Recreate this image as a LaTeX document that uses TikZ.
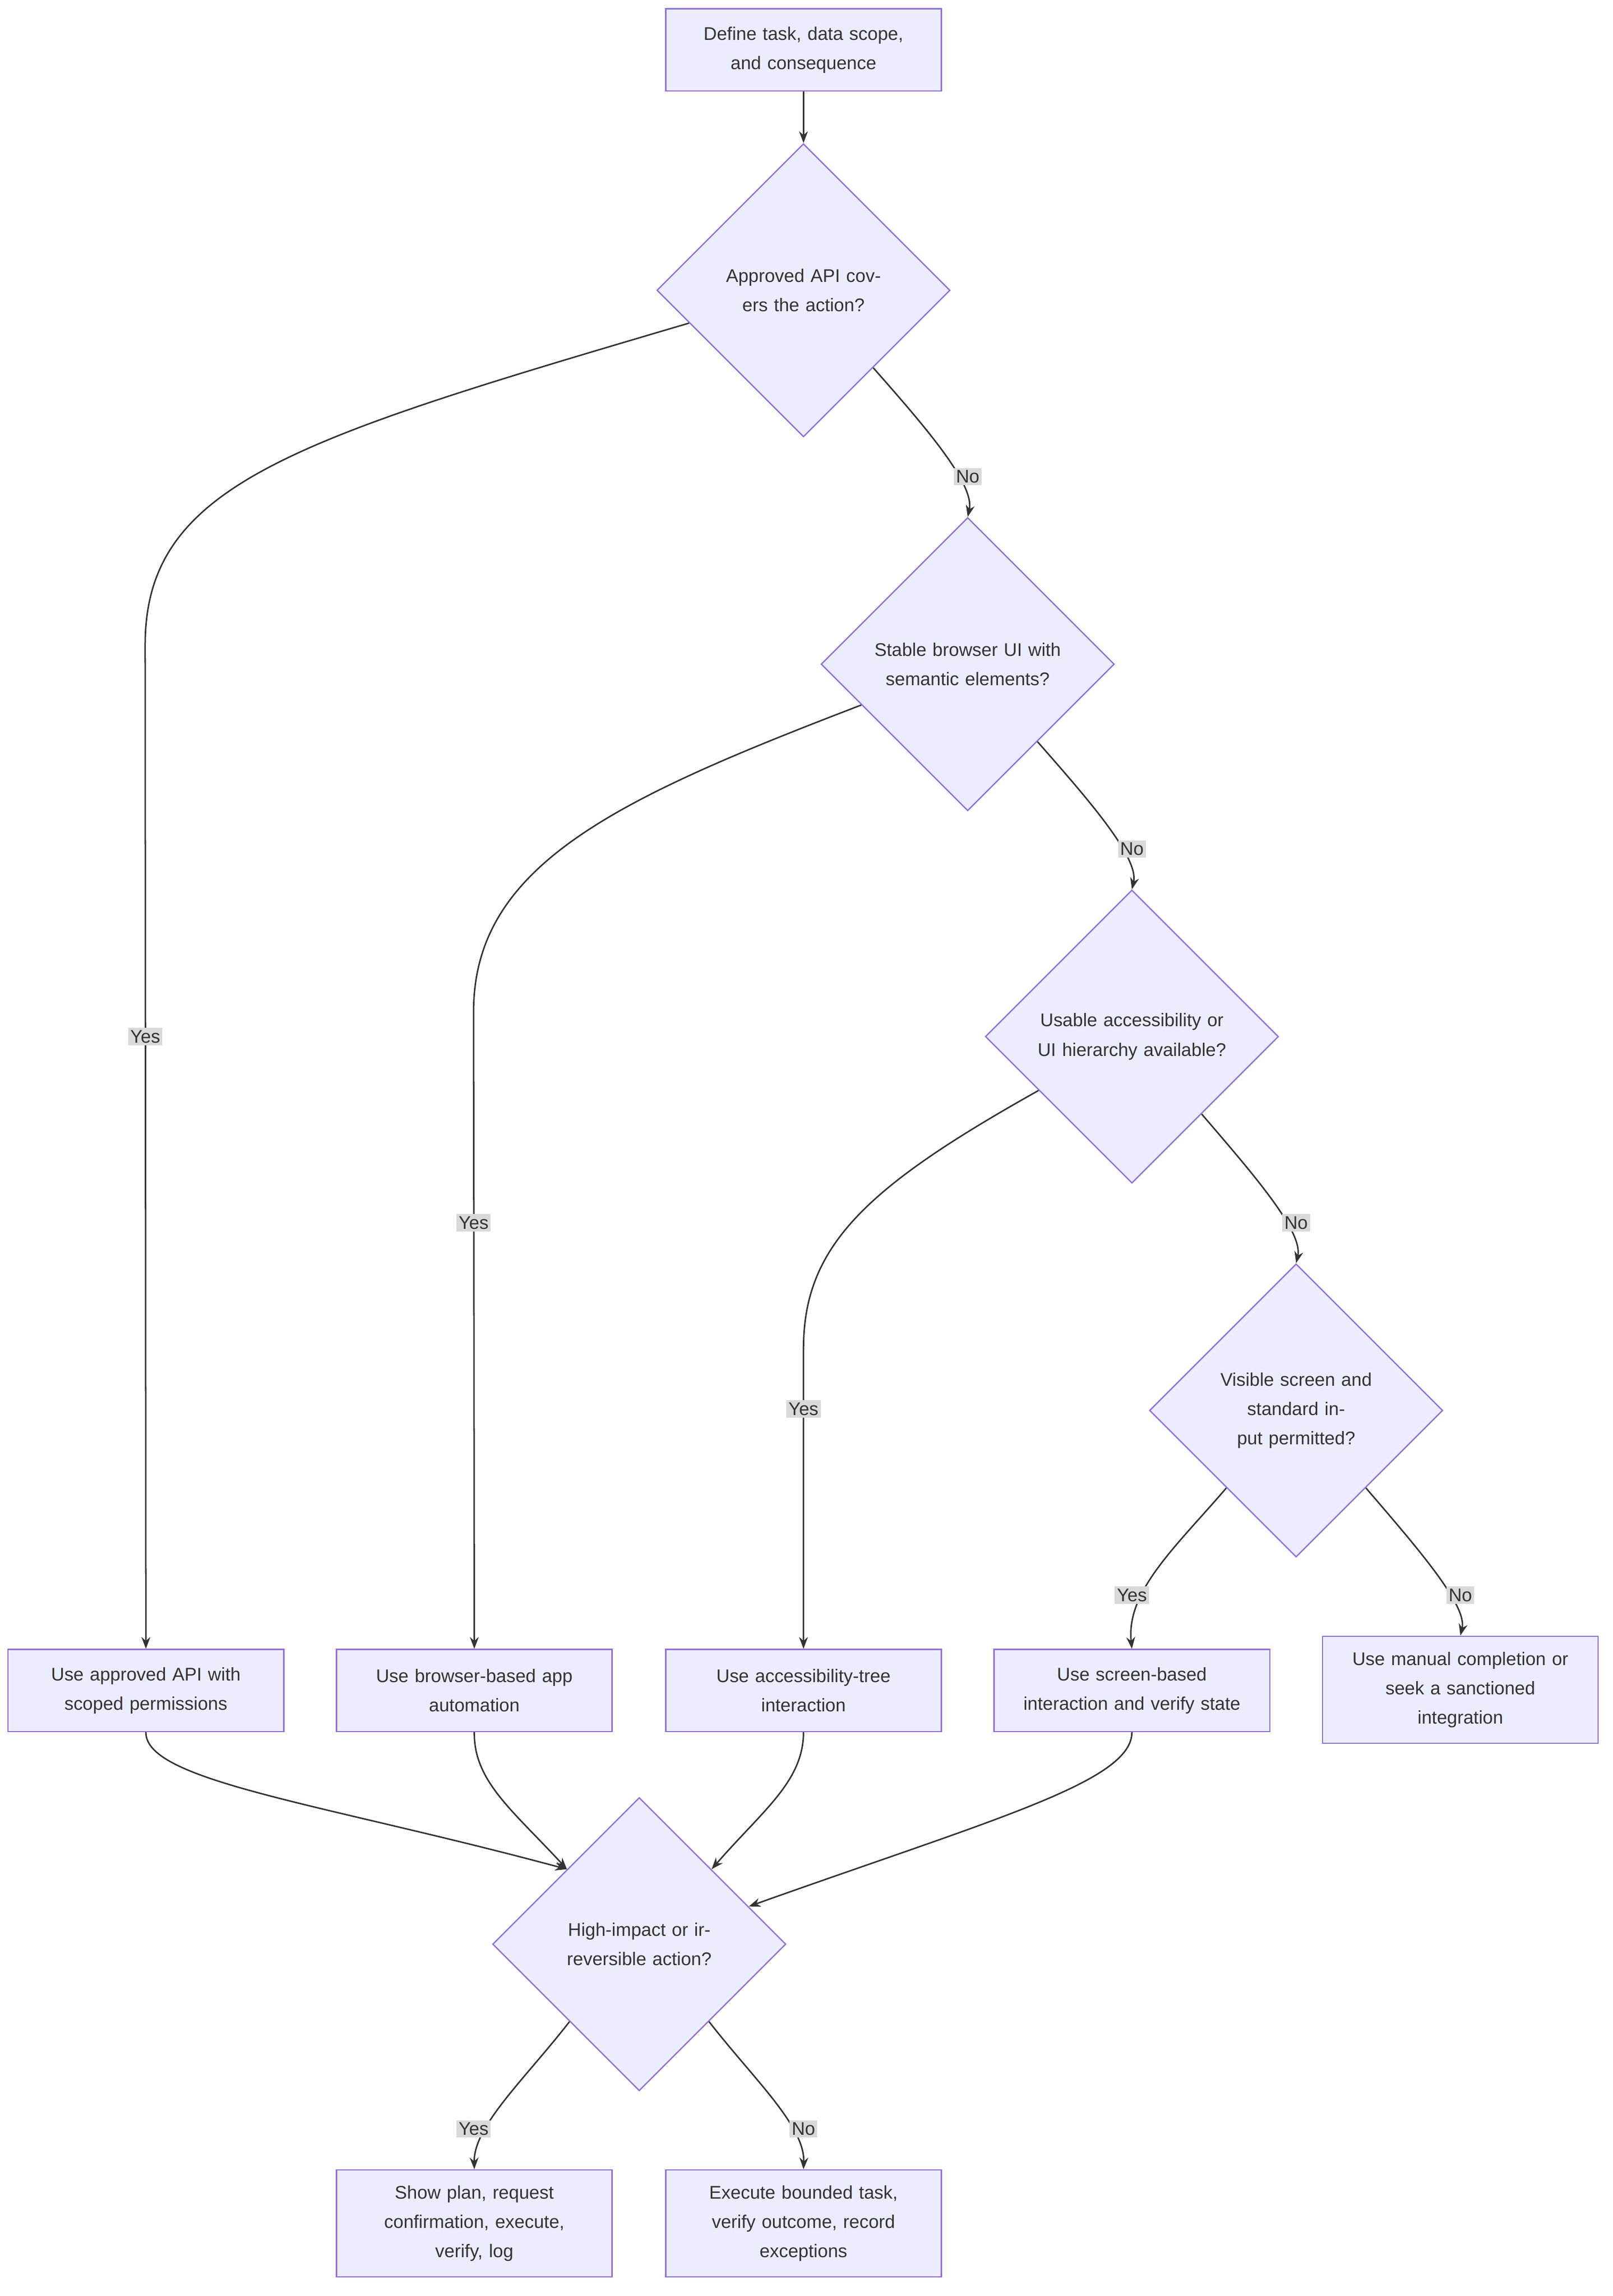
\documentclass[tikz,border=0pt]{standalone}
\usepackage{fontspec}
\setmainfont{Liberation Sans}
\usetikzlibrary{shapes.geometric,arrows.meta}
\definecolor{nfill}{HTML}{ECECFF}
\definecolor{nstroke}{HTML}{9370DB}
\definecolor{eline}{HTML}{333333}
\definecolor{lblbg}{HTML}{D9D9D9}
\begin{document}
\begin{tikzpicture}[x=1pt,y=-1pt,
  box/.style={draw=nstroke,fill=nfill,line width=0.9pt,minimum width=188pt,minimum height=56pt,text width=170pt,align=center,font=\fontsize{12.5}{20}\selectfont,text=eline},
  tall/.style={box,minimum height=73pt},
  dia/.style={diamond,draw=nstroke,fill=nfill,line width=0.9pt,minimum width=200pt,minimum height=200pt,inner sep=0pt,aspect=1,text width=140pt,align=center,font=\fontsize{12.5}{20}\selectfont,text=eline},
  e/.style={draw=eline,line width=1pt,-{Stealth[length=8pt,width=6pt]}},
  lbl/.style={fill=lblbg,inner sep=1.5pt,font=\fontsize{12.5}{14}\selectfont,text=eline}]
\useasboundingbox (0,0) rectangle (1100,1566);
\fill[white] (0,0) rectangle (1100,1566);
\node[box] (s) at (548,34) {Define task, data scope,\\and consequence};
\node[dia] (d1) at (548,198) {Approved API covers the action?};
\node[dia] (d2) at (660,453) {Stable browser UI with semantic elements?};
\node[dia] (d3) at (772,707) {Usable accessibility or UI hierarchy available?};
\node[dia] (d4) at (884,962) {Visible screen and\\standard input permitted?};
\node[box] (r1) at (99.5,1153) {Use approved API with\\scoped permissions};
\node[box] (r2) at (323.5,1153) {Use browser-based app\\automation};
\node[box] (r3) at (548,1153) {Use accessibility-tree\\interaction};
\node[box] (r4) at (772,1153) {Use screen-based\\interaction and verify state};
\node[tall] (r5) at (996,1152.5) {Use manual completion or\\seek a sanctioned\\integration};
\node[dia] (d5) at (436,1326) {High-impact or irreversible action?};
\node[tall] (r6) at (323.5,1516.5) {Show plan, request\\confirmation, execute,\\verify, log};
\node[tall] (r7) at (548,1516.5) {Execute bounded task,\\verify outcome, record\\exceptions};

\draw[e] (s) -- (d1);
\draw[e] (d1.196) .. controls (200,300) and (99,330) .. (99,440) -- (r1.north);
\draw[e] (d1.312) .. controls (630,290) and (665,330) .. (d2.north);
\draw[e] (d2.201) .. controls (420,545) and (323,590) .. (323,690) -- (r2.north);
\draw[e] (d2.312) .. controls (742,545) and (777,585) .. (d3.north);
\draw[e] (d3.210) .. controls (590,810) and (548,850) .. (548,920) -- (r3.north);
\draw[e] (d3.312) .. controls (854,800) and (889,840) .. (d4.north);
\draw[e] (d4.228) .. controls (802,1055) and (768,1085) .. (r4.north);
\draw[e] (d4.312) .. controls (966,1055) and (1001,1095) .. (r5.north);
\draw[e] (r1.south) .. controls (99,1215) and (220,1230) .. (d5.134);
\draw[e] (r2.south) .. controls (323,1215) and (350,1235) .. (d5.134);
\draw[e] (r3.south) .. controls (548,1215) and (520,1235) .. (d5.46);
\draw[e] (r4.south) .. controls (772,1215) and (680,1240) .. (d5.19);
\draw[e] (d5.228) .. controls (358,1418) and (323,1450) .. (r6.north);
\draw[e] (d5.312) .. controls (514,1418) and (549,1450) .. (r7.north);

\node[lbl] (l1) at (99,707) {Yes};
\node[lbl] (l2) at (660,325) {No};
\node[lbl] (l3) at (323,834) {Yes};
\node[lbl] (l4) at (772,579) {No};
\node[lbl] (l5) at (548,961) {Yes};
\node[lbl] (l6) at (884,834) {No};
\node[lbl] (l7) at (772,1088) {Yes};
\node[lbl] (l8) at (996,1088) {No};
\node[lbl] (l9) at (323,1452) {Yes};
\node[lbl] (l10) at (548,1452) {No};
\end{tikzpicture}
\end{document}
